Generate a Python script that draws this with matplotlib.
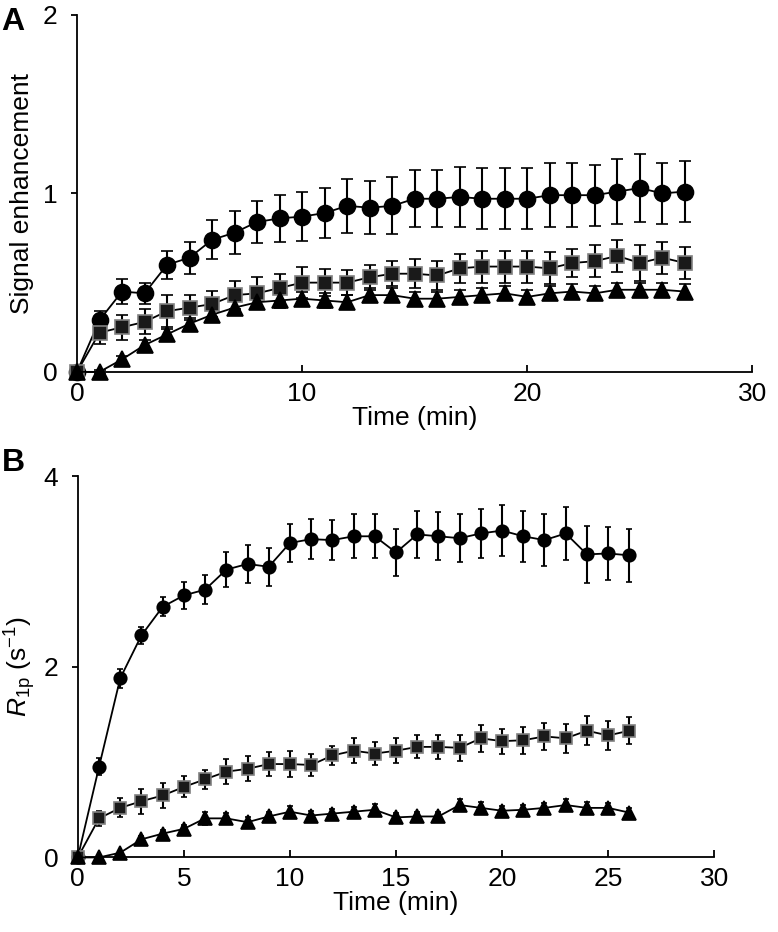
import matplotlib
matplotlib.use('Agg')
import matplotlib.pyplot as plt

plt.rcParams['font.family'] = ['Liberation Sans', 'DejaVu Sans']
plt.rcParams['mathtext.fontset'] = 'custom'
plt.rcParams['mathtext.rm'] = 'Liberation Sans'
plt.rcParams['mathtext.it'] = 'Liberation Sans:italic'

# panel A: signal enhancement, t = 0..27 min
t_a = list(range(28))
se_circ = [0, 0.29, 0.45, 0.44, 0.60, 0.64, 0.74, 0.78, 0.84, 0.86, 0.87, 0.89, 0.93, 0.92,
           0.93, 0.97, 0.97, 0.98, 0.97, 0.97, 0.97, 0.99, 0.99, 0.99, 1.01, 1.03, 1.00, 1.01]
se_circ_err = [0, 0.05, 0.07, 0.06, 0.08, 0.09, 0.11, 0.12, 0.12, 0.13, 0.135, 0.14, 0.15, 0.15,
               0.16, 0.16, 0.16, 0.17, 0.17, 0.17, 0.17, 0.18, 0.18, 0.17, 0.18, 0.19, 0.17, 0.17]
se_sq = [0, 0.22, 0.25, 0.28, 0.34, 0.36, 0.38, 0.43, 0.44, 0.47, 0.50, 0.50, 0.50, 0.53,
         0.55, 0.55, 0.54, 0.58, 0.59, 0.59, 0.59, 0.58, 0.61, 0.62, 0.65, 0.61, 0.64, 0.61]
se_sq_err = [0, 0.065, 0.07, 0.07, 0.09, 0.07, 0.075, 0.08, 0.09, 0.08, 0.085, 0.075, 0.07, 0.07,
             0.07, 0.08, 0.08, 0.08, 0.09, 0.09, 0.09, 0.09, 0.08, 0.09, 0.09, 0.10, 0.09, 0.09]
se_tri = [0, 0.0, 0.07, 0.15, 0.21, 0.27, 0.32, 0.36, 0.39, 0.40, 0.41, 0.40, 0.39, 0.43,
          0.43, 0.41, 0.41, 0.42, 0.43, 0.44, 0.42, 0.44, 0.45, 0.44, 0.46, 0.46, 0.46, 0.45]
se_tri_err = [0, 0.01, 0.02, 0.03, 0.03, 0.03, 0.04, 0.04, 0.04, 0.04, 0.04, 0.04, 0.04, 0.04,
              0.04, 0.04, 0.04, 0.04, 0.04, 0.04, 0.04, 0.04, 0.04, 0.04, 0.04, 0.04, 0.04, 0.04]

# panel B: R1p, t = 0..26 min
t_b = list(range(27))
r_circ = [0, 0.95, 1.88, 2.33, 2.63, 2.75, 2.81, 3.02, 3.08, 3.05, 3.30, 3.34, 3.33, 3.37,
          3.37, 3.20, 3.39, 3.37, 3.35, 3.40, 3.43, 3.37, 3.33, 3.40, 3.18, 3.19, 3.17]
r_circ_err = [0, 0.09, 0.10, 0.09, 0.10, 0.14, 0.15, 0.18, 0.20, 0.20, 0.20, 0.21, 0.21, 0.23,
              0.23, 0.25, 0.25, 0.25, 0.25, 0.26, 0.27, 0.27, 0.27, 0.28, 0.30, 0.28, 0.28]
r_sq = [0, 0.41, 0.52, 0.59, 0.65, 0.74, 0.82, 0.90, 0.93, 0.98, 0.98, 0.97, 1.07, 1.12,
        1.09, 1.12, 1.16, 1.16, 1.15, 1.25, 1.22, 1.23, 1.27, 1.25, 1.33, 1.28, 1.33]
r_sq_err = [0, 0.08, 0.10, 0.13, 0.13, 0.11, 0.10, 0.13, 0.13, 0.13, 0.14, 0.12, 0.10, 0.13,
            0.12, 0.13, 0.12, 0.13, 0.14, 0.14, 0.13, 0.14, 0.14, 0.15, 0.15, 0.15, 0.14]
r_tri = [0, 0.0, 0.05, 0.19, 0.25, 0.30, 0.41, 0.41, 0.37, 0.43, 0.48, 0.44, 0.46, 0.48,
         0.50, 0.42, 0.43, 0.43, 0.55, 0.52, 0.49, 0.50, 0.52, 0.55, 0.52, 0.52, 0.47]
r_tri_err = [0, 0.01, 0.02, 0.03, 0.04, 0.04, 0.07, 0.06, 0.05, 0.05, 0.06, 0.05, 0.05, 0.05,
             0.06, 0.05, 0.05, 0.05, 0.06, 0.06, 0.05, 0.05, 0.05, 0.06, 0.06, 0.05, 0.05]

fig = plt.figure(figsize=(7.78, 9.32), dpi=100)
ax1 = fig.add_axes([0.099, 0.601, 0.868, 0.383])
ax2 = fig.add_axes([0.100, 0.080, 0.818, 0.409])


def series(ax, t, y, e, marker, ms, cap, face='black', edge='black'):
    ax.errorbar(t, y, yerr=e, fmt='-', color='black', lw=1.3, elinewidth=1.5,
                capsize=cap, capthick=1.5, marker=marker, ms=ms,
                mfc=face, mec=edge, mew=1.2, clip_on=False, zorder=3)


series(ax1, t_a, se_circ, se_circ_err, 'o', 11.5, 4)
series(ax1, t_a, se_sq, se_sq_err, 's', 10.5, 4, face='#1a1a1a', edge='#808080')
series(ax1, t_a, se_tri, se_tri_err, '^', 12, 4)

series(ax2, t_b, r_circ, r_circ_err, 'o', 9, 2.5)
series(ax2, t_b, r_sq, r_sq_err, 's', 8.5, 2.5, face='#1a1a1a', edge='#808080')
series(ax2, t_b, r_tri, r_tri_err, '^', 9.5, 2.5)

for ax in (ax1, ax2):
    ax.spines['top'].set_visible(False)
    ax.spines['right'].set_visible(False)
    ax.spines['left'].set_linewidth(1.3)
    ax.spines['bottom'].set_linewidth(1.3)
    ax.tick_params(axis='x', direction='in', length=5, width=1.3, labelsize=19, pad=7)
    ax.tick_params(axis='y', direction='out', length=4, width=1.3, labelsize=19, pad=10)
    ax.set_xlim(0, 30)
    ax.set_xlabel('Time (min)', fontsize=19, labelpad=0)

ax1.set_ylim(0, 2)
ax1.set_yticks([0, 1, 2])
ax1.set_xticks([0, 10, 20, 30])
ax1.set_ylabel('Signal enhancement', fontsize=19, labelpad=6)

ax2.set_ylim(0, 4)
ax2.set_yticks([0, 2, 4])
ax2.set_xticks([0, 5, 10, 15, 20, 25, 30])
ax2.set_ylabel(r'$R_{\mathrm{1p}}$ (s$^{-1}$)', fontsize=19, labelpad=4)

fig.text(0.002, 0.992, 'A', fontsize=23, fontweight='bold', va='top')
fig.text(0.002, 0.519, 'B', fontsize=23, fontweight='bold', va='top')

fig.savefig('out.png', dpi=100)
